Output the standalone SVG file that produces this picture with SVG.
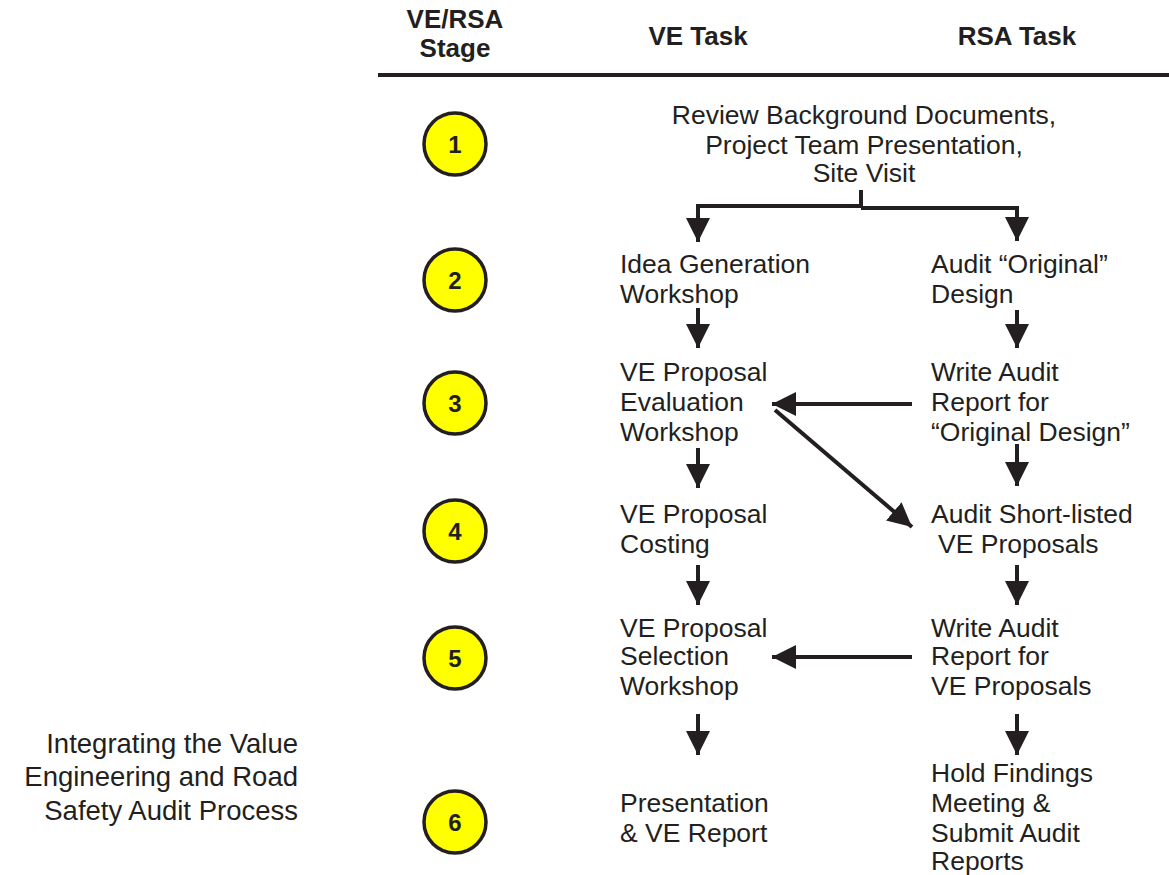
<svg xmlns="http://www.w3.org/2000/svg" width="1169" height="875" viewBox="0 0 1169 875">
<style>
.h{font-family:"Liberation Sans",Arial,sans-serif;font-weight:bold;font-size:26px;fill:#231f20;text-anchor:middle}
.t{font-family:"Liberation Sans",Arial,sans-serif;font-size:26.5px;fill:#231f20}
.tt{font-family:"Liberation Sans",Arial,sans-serif;font-size:27.5px;fill:#231f20;text-anchor:end}
.n{font-family:"Liberation Sans",Arial,sans-serif;font-weight:bold;font-size:24px;fill:#231f20;text-anchor:middle}
.c{fill:#ffff00;stroke:#231f20;stroke-width:3.5}
.l{stroke:#231f20;stroke-width:4;fill:none}
</style>
<defs>
<marker id="ah" viewBox="0 0 10 10" refX="10" refY="5" markerWidth="6" markerHeight="6" markerUnits="strokeWidth" orient="auto">
<path d="M0,0 L10,5 L0,10 Z" fill="#231f20"/>
</marker>
</defs>
<rect width="1169" height="875" fill="#ffffff"/>
<g id="header">
<text class="h" x="455" y="28">VE/RSA</text>
<text class="h" x="455" y="57">Stage</text>
<text class="h" x="698" y="45">VE Task</text>
<text class="h" x="1017" y="45">RSA Task</text>
<line x1="378" y1="75" x2="1169" y2="75" stroke="#231f20" stroke-width="4"/>
</g>
<g id="title">
<text class="tt" x="298" y="753">Integrating the Value</text>
<text class="tt" x="298" y="786">Engineering and Road</text>
<text class="tt" x="298" y="820">Safety Audit Process</text>
</g>
<g id="stage1"><circle class="c" cx="455" cy="144" r="31"/><text class="n" x="455" y="153">1</text></g>
<g id="stage2"><circle class="c" cx="455" cy="280" r="31"/><text class="n" x="455" y="289">2</text></g>
<g id="stage3"><circle class="c" cx="455" cy="403" r="31"/><text class="n" x="455" y="412">3</text></g>
<g id="stage4"><circle class="c" cx="455" cy="531" r="31"/><text class="n" x="455" y="540">4</text></g>
<g id="stage5"><circle class="c" cx="455" cy="658" r="31"/><text class="n" x="455" y="667">5</text></g>
<g id="stage6"><circle class="c" cx="455" cy="822" r="31"/><text class="n" x="455" y="831">6</text></g>
<g id="review">
<text class="t" text-anchor="middle" x="864" y="124">Review Background Documents,</text>
<text class="t" text-anchor="middle" x="864" y="154">Project Team Presentation,</text>
<text class="t" text-anchor="middle" x="864" y="182">Site Visit</text>
</g>
<g id="ve2"><text class="t" x="620" y="273">Idea Generation</text><text class="t" x="620" y="303">Workshop</text></g>
<g id="ve3"><text class="t" x="620" y="381">VE Proposal</text><text class="t" x="620" y="411">Evaluation</text><text class="t" x="620" y="441">Workshop</text></g>
<g id="ve4"><text class="t" x="620" y="523">VE Proposal</text><text class="t" x="620" y="553">Costing</text></g>
<g id="ve5"><text class="t" x="620" y="637">VE Proposal</text><text class="t" x="620" y="665">Selection</text><text class="t" x="620" y="695">Workshop</text></g>
<g id="ve6"><text class="t" x="620" y="812">Presentation</text><text class="t" x="620" y="842">&amp; VE Report</text></g>
<g id="rsa2"><text class="t" x="931" y="273">Audit “Original”</text><text class="t" x="931" y="303">Design</text></g>
<g id="rsa3"><text class="t" x="931" y="381">Write Audit</text><text class="t" x="931" y="411">Report for</text><text class="t" x="931" y="441">“Original Design”</text></g>
<g id="rsa4"><text class="t" x="931" y="523">Audit Short-listed</text><text class="t" x="938" y="553">VE Proposals</text></g>
<g id="rsa5"><text class="t" x="931" y="637">Write Audit</text><text class="t" x="931" y="665">Report for</text><text class="t" x="931" y="695">VE Proposals</text></g>
<g id="rsa6"><text class="t" x="931" y="782">Hold Findings</text><text class="t" x="931" y="812">Meeting &amp;</text><text class="t" x="931" y="842">Submit Audit</text><text class="t" x="931" y="870">Reports</text></g>
<g id="connectors">
<path class="l" d="M861,190 V207"/>
<path class="l" d="M861,206 H698 V242" marker-end="url(#ah)"/>
<path class="l" d="M861,208 H1017 V241" marker-end="url(#ah)"/>
<path class="l" d="M698,308 V348" marker-end="url(#ah)"/>
<path class="l" d="M1017,310 V348" marker-end="url(#ah)"/>
<path class="l" d="M912,404 H772" marker-end="url(#ah)"/>
<path class="l" d="M775,410 L912,527" marker-end="url(#ah)"/>
<path class="l" d="M698,448 V488" marker-end="url(#ah)"/>
<path class="l" d="M1017,444 V486" marker-end="url(#ah)"/>
<path class="l" d="M698,565 V605" marker-end="url(#ah)"/>
<path class="l" d="M1017,565 V605" marker-end="url(#ah)"/>
<path class="l" d="M912,657 H772" marker-end="url(#ah)"/>
<path class="l" d="M698,714 V755" marker-end="url(#ah)"/>
<path class="l" d="M1017,714 V755" marker-end="url(#ah)"/>
</g>
</svg>
